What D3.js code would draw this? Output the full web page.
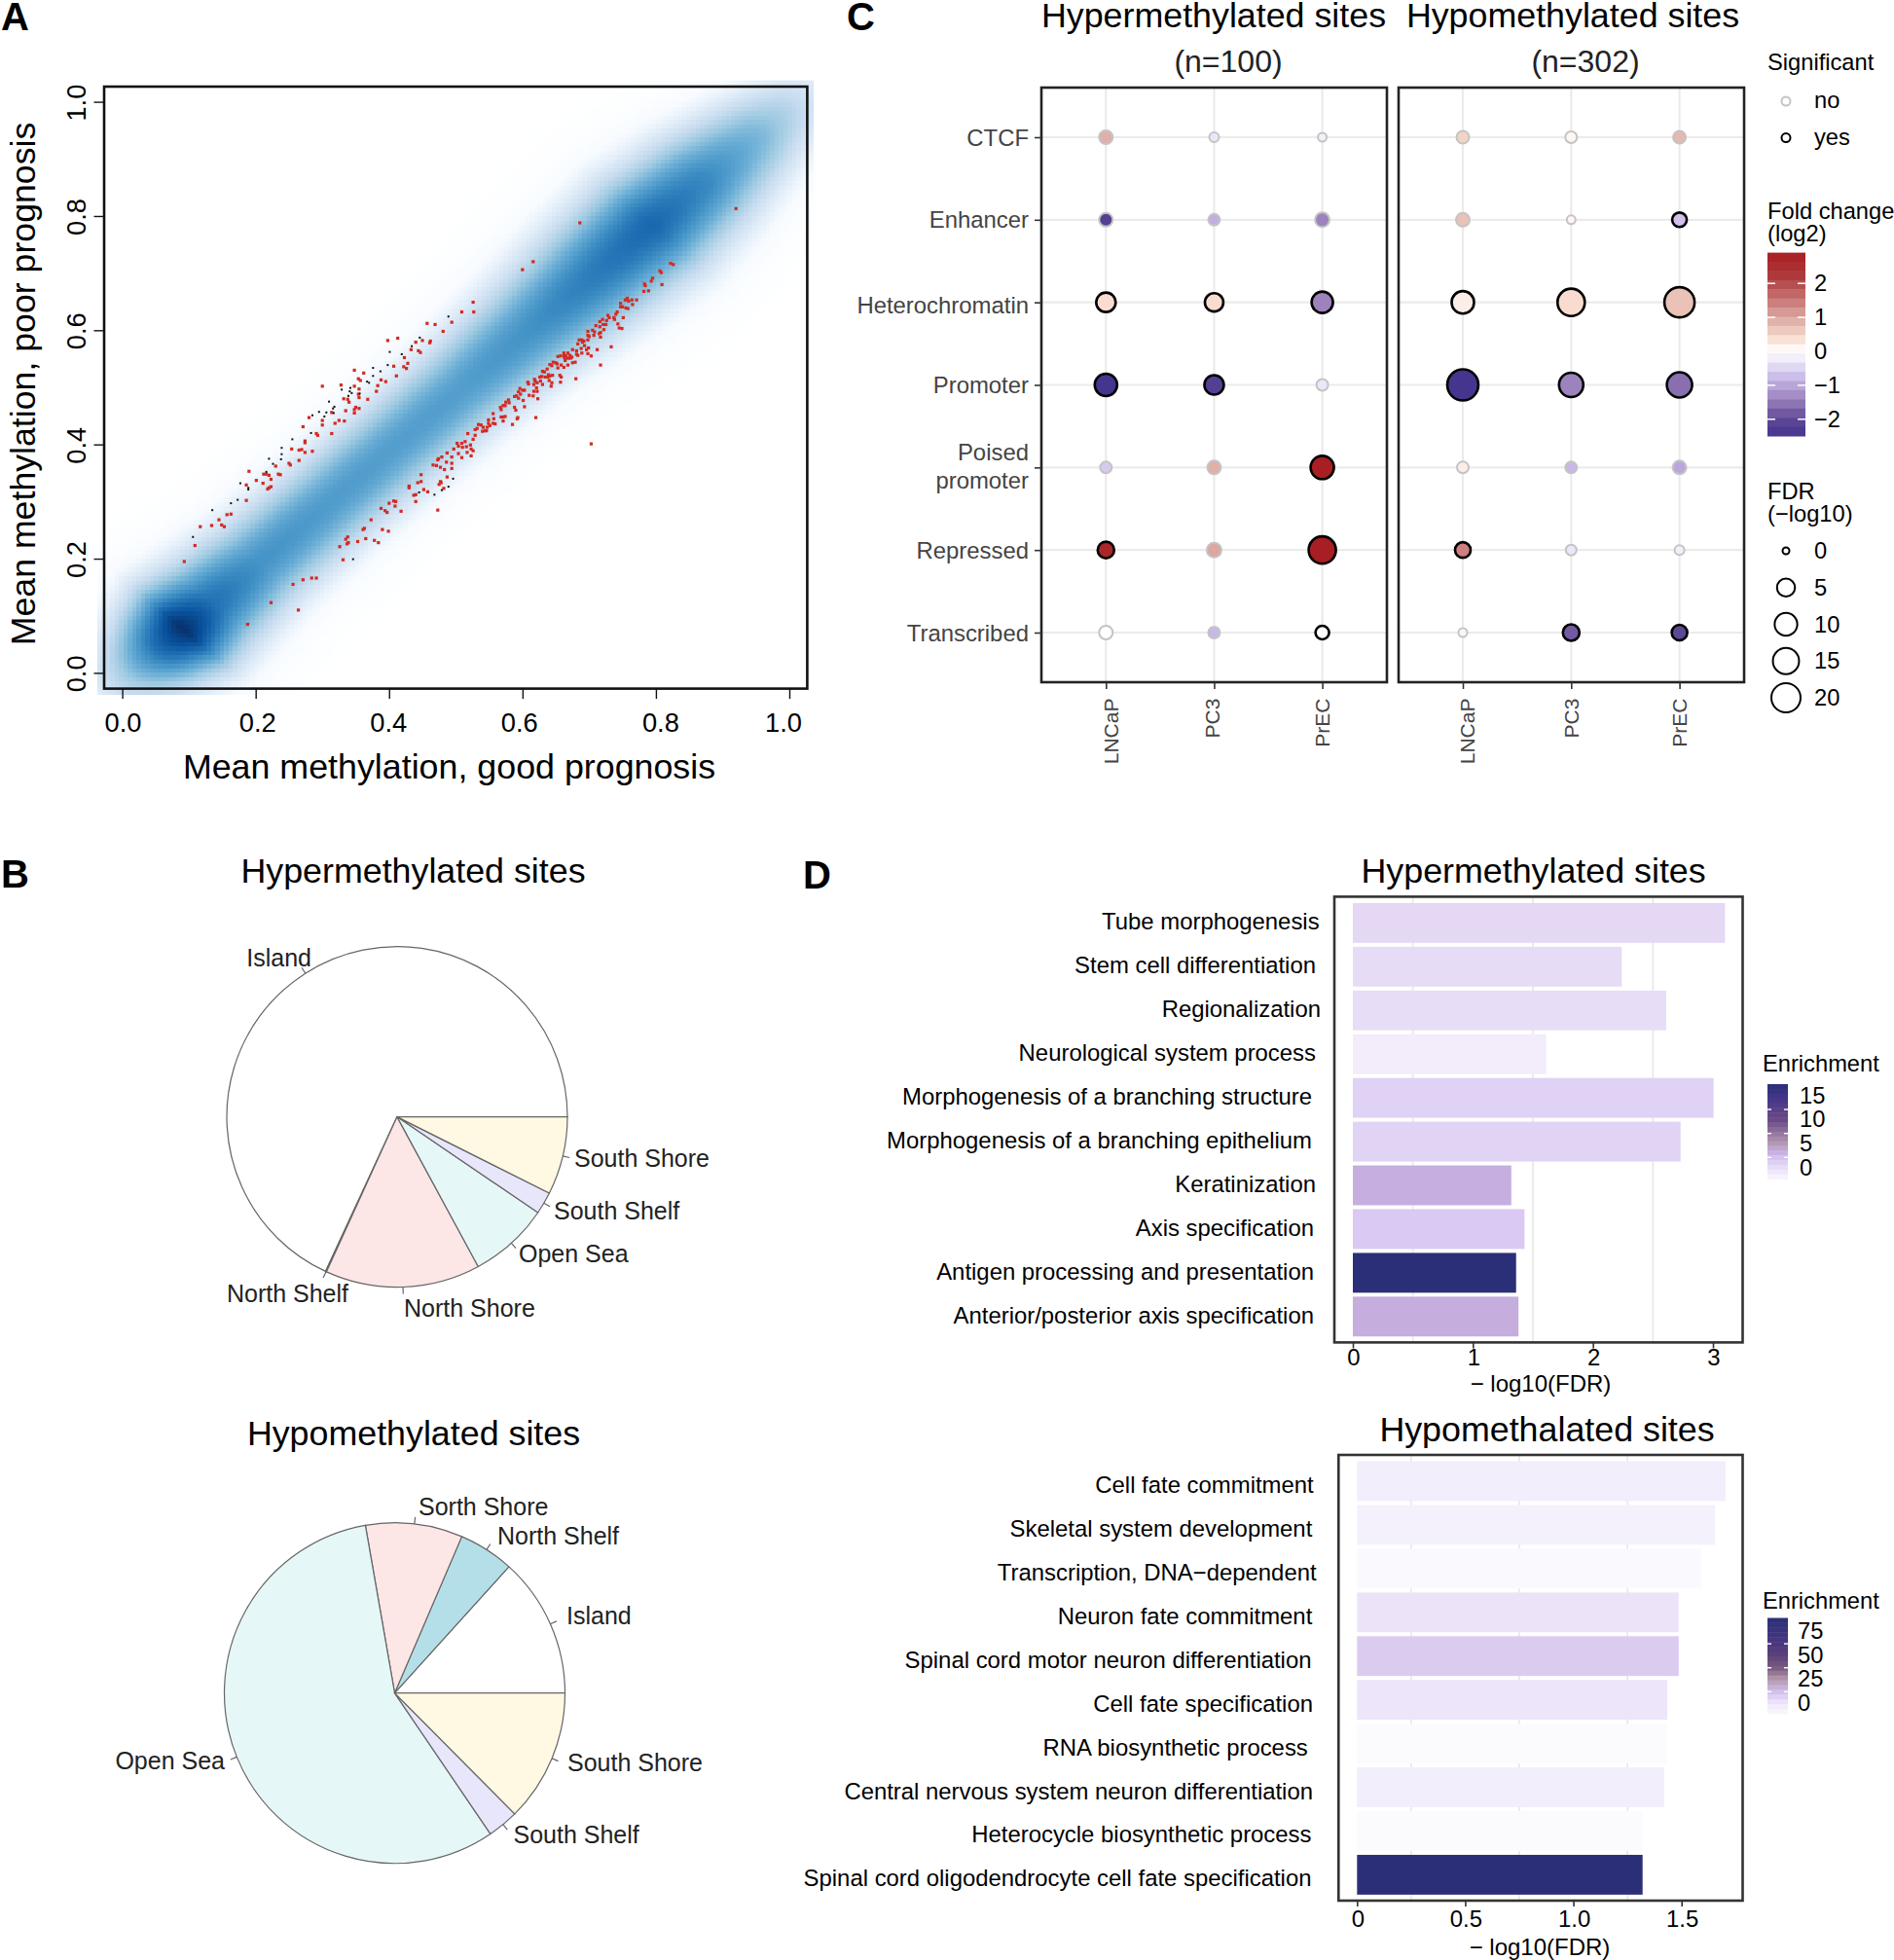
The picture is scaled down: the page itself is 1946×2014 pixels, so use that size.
<!DOCTYPE html>
<html>
<head>
<meta charset="utf-8">
<script src="https://cdn.jsdelivr.net/npm/d3@7"></script>
<style>
html, body { margin: 0; padding: 0; background: #fff; }
svg { display: block; font-family: "Liberation Sans", Arial, sans-serif; }
</style>
</head>
<body>
<svg id="chart" width="1946" height="2014" viewBox="0 0 1946 2014"></svg>
<script>
// panel A, red sites (good prognosis, poor prognosis)
var redSites = [
[.526,.649],[.509,.632],[.527,.632],[.494,.614],[.457,.612],[.469,.610],[.481,.598],[.413,.586],[.398,.582],[.450,.582],
[.462,.581],[.440,.579],[.461,.578],[.433,.566],[.444,.564],[.447,.561],[.423,.552],[.428,.542],[.422,.536],[.426,.533],
[.407,.537],[.348,.530],[.362,.525],[.411,.520],[.354,.515],[.357,.512],[.388,.513],[.395,.510],[.383,.503],[.300,.502],
[.328,.504],[.348,.502],[.355,.497],[.381,.493],[.354,.488],[.355,.482],[.332,.480],[.338,.479],[.340,.474],[.368,.479],
[.350,.465],[.355,.463],[.348,.461],[.335,.459],[.348,.455],[.314,.456],[.280,.447],[.300,.442],[.325,.442],[.333,.441],
[.319,.437],[.300,.434],[.271,.431],[.291,.419],[.293,.416],[.314,.419],[.274,.406],[.274,.403],[.254,.392],[.265,.390],
[.269,.391],[.274,.386],[.285,.388],[.265,.372],[.250,.367],[.252,.364],[.230,.362],[.190,.353],[.212,.348],[.216,.348],
[.220,.346],[.234,.348],[.237,.347],[.223,.339],[.201,.337],[.211,.332],[.186,.329],[.223,.326],[.220,.324],[.218,.322],
[.186,.302],[.093,.195],[.109,.223],[.117,.256],[.134,.258],[.145,.268],[.149,.259],[.153,.256],[.157,.277],[.163,.278],
[.188,.085],[.223,.123],[.264,.110],[.256,.155],[.271,.163],[.284,.166],[.291,.166],[.331,.198],[.326,.221],[.337,.226],
[.339,.228],[.335,.234],[.338,.238],[.353,.230],[.365,.235],[.378,.232],[.384,.228],[.361,.251],[.363,.253],[.390,.251],
[.399,.248],[.373,.268],[.473,.285],[.388,.288],[.394,.284],[.397,.281],[.418,.283],[.400,.297],[.409,.292],[.407,.301],
[.410,.300],[.440,.300],[.437,.311],[.440,.312],[.430,.327],[.430,.324],[.443,.333],[.448,.335],[.448,.347],[.452,.321],
[.458,.317],[.475,.330],[.477,.335],[.478,.333],[.482,.323],[.487,.343],[.483,.356],[.494,.358],[.466,.364],[.471,.363],
[.477,.360],[.486,.369],[.494,.367],[.473,.373],[.474,.375],[.479,.378],[.487,.385],[.494,.378],[.504,.384],[.509,.377],
[.517,.386],[.523,.380],[.497,.392],[.502,.402],[.504,.397],[.509,.402],[.510,.395],[.514,.405],[.516,.396],[.523,.392],
[.526,.389],[.522,.399],[.526,.409],[.529,.416],[.518,.419],[.529,.426],[.532,.428],[.534,.435],[.538,.434],[.540,.423],
[.544,.424],[.541,.430],[.920,.813],[.686,.788],[.616,.720],[.600,.706],[.822,.717],[.826,.715],[.806,.704],[.808,.701],
[.795,.691],[.793,.686],[.783,.681],[.784,.678],[.809,.680],[.782,.668],[.789,.669],[.757,.656],[.754,.653],[.759,.651],
[.764,.653],[.771,.653],[.747,.647],[.747,.641],[.750,.641],[.755,.639],[.758,.638],[.765,.645],[.742,.632],[.740,.628],
[.728,.626],[.730,.622],[.720,.619],[.726,.617],[.737,.622],[.738,.619],[.751,.622],[.716,.615],[.710,.608],[.721,.610],
[.725,.610],[.716,.606],[.743,.611],[.745,.604],[.749,.603],[.722,.601],[.717,.596],[.715,.594],[.698,.598],[.705,.600],
[.708,.597],[.698,.591],[.700,.589],[.707,.591],[.717,.588],[.685,.583],[.689,.583],[.692,.581],[.690,.579],[.698,.583],
[.683,.576],[.693,.573],[.699,.569],[.675,.566],[.681,.564],[.688,.568],[.689,.560],[.696,.566],[.712,.566],[.733,.571],
[.662,.560],[.668,.560],[.653,.554],[.657,.555],[.662,.555],[.665,.555],[.671,.556],[.674,.553],[.681,.558],[.683,.556],
[.698,.559],[.703,.555],[.663,.552],[.668,.551],[.672,.551],[.664,.547],[.646,.544],[.650,.543],[.652,.541],[.644,.538],
[.641,.540],[.658,.539],[.662,.535],[.668,.539],[.675,.543],[.679,.544],[.717,.539],[.653,.534],[.630,.528],[.633,.527],
[.637,.532],[.639,.522],[.638,.518],[.626,.518],[.629,.519],[.634,.518],[.641,.520],[.645,.521],[.656,.521],[.658,.518],
[.680,.515],[.618,.514],[.608,.509],[.609,.506],[.619,.511],[.622,.508],[.617,.505],[.627,.511],[.640,.512],[.644,.508],
[.643,.502],[.657,.509],[.630,.505],[.621,.499],[.596,.498],[.600,.495],[.603,.495],[.594,.492],[.591,.485],[.597,.488],
[.617,.493],[.622,.493],[.610,.486],[.616,.485],[.623,.480],[.594,.481],[.601,.477],[.588,.484],[.579,.478],[.575,.474],
[.580,.473],[.571,.468],[.574,.468],[.567,.465],[.568,.461],[.588,.465],[.590,.460],[.603,.466],[.556,.454],[.557,.445],
[.568,.448],[.571,.448],[.574,.449],[.571,.441],[.593,.447],[.592,.445],[.620,.447],[.549,.443],[.549,.437],[.556,.437],
[.559,.436],[.551,.433],[.547,.430],[.546,.424],[.585,.435],[.703,.401]
]
var blackSites = [
[.489,.624],[.446,.587],[.434,.572],[.401,.562],[.419,.558],[.398,.539],[.376,.534],[.387,.528],[.376,.520],[.367,.510],
[.370,.508],[.342,.499],[.329,.496],[.341,.493],[.344,.490],[.356,.489],[.339,.485],[.310,.475],[.318,.466],[.316,.463],
[.306,.456],[.295,.457],[.285,.451],[.303,.449],[.317,.455],[.283,.420],[.255,.409],[.239,.394],[.239,.383],[.220,.375],
[.238,.374],[.226,.366],[.216,.352],[.189,.324],[.189,.321],[.106,.238],[.135,.285],[.163,.297],[.173,.303],[.177,.332],
[.346,.199],[.468,.312],[.445,.316],[.479,.320],[.489,.326],[.496,.340]
]
// panel A, smoothed density read along the diagonal
var densityAlong = [-.04, 0, .05, .085, .13, .2, .3, .4, .5, .6, .7, .79, .87, .95, 1, 1.04]
var densityPeak = [.18, .42, .8, 1, .78, .66, .63, .62, .62, .66, .74, .81, .7, .52, .36, .2]
var densitySpread = [.075, .082, .092, .098, .098, .093, .09, .09, .092, .098, .106, .11, .102, .088, .078, .07]

// panel B
var pieNames = ['Island', 'North Shelf', 'North Shore', 'Open Sea', 'South Shelf', 'South Shore']
var pieHyper = [68.1, 0.1, 14.7, 7.6, 2.1, 7.4]
var pieHypo = [13.3, 5.25, 9.2, 56.75, 2.95, 12.55]
var pieHypoNames = ['Island', 'North Shelf', 'Sorth Shore', 'Open Sea', 'South Shelf', 'South Shore']

// panel C
var regions = ['CTCF', 'Enhancer', 'Heterochromatin', 'Promoter', 'Poised promoter', 'Repressed', 'Transcribed']
var cells = ['LNCaP', 'PC3', 'PrEC']
var foldHyper = [[.9,-.3,-.2],[-2.2,-.9,-1.4],[.4,.4,-1.4],[-2.5,-2.2,-.3],[-.6,.9,2.9],[2.7,1,2.9],[0,-.8,0]]
var fdrHyper = [[1.85,.34,.15],[1.85,.95,2.4],[6.4,5.4,8.5],[9.7,6.4,.95],[.95,1.85,10.9],[3.8,2.4,16.7],[1.85,.95,1.85]]
var sigHyper = [[0,0,0],[0,0,0],[1,1,1],[1,1,0],[0,0,1],[1,0,1],[0,0,1]]
var foldHypo = [[.5,.1,.8],[.7,.1,-.7],[.2,.4,.7],[-2.5,-1.4,-1.6],[.2,-.8,-1],[1.4,-.3,-.2],[-.1,-1.8,-2]]
var fdrHypo = [[1.36,.95,1.36],[1.85,.15,2.4],[9.7,16.7,21.8],[23.6,12.2,13.6],[.95,.95,1.85],[3.06,.6,.34],[.15,3.8,3.06]]
var sigHypo = [[0,0,0],[0,0,1],[1,1,1],[1,1,1],[0,0,0],[1,0,0],[0,1,1]]
var fdrLegend = [0, 5, 10, 15, 20]
var foldLegend = [2, 1, 0, -1, -2]

// panel D
var termsHyper = ['Tube morphogenesis', 'Stem cell differentiation', 'Regionalization', 'Neurological system process',
  'Morphogenesis of a branching structure', 'Morphogenesis of a branching epithelium', 'Keratinization',
  'Axis specification', 'Antigen processing and presentation', 'Anterior/posterior axis specification']
var fdrTermsHyper = [3.1, 2.24, 2.61, 1.61, 3.005, 2.73, 1.32, 1.43, 1.36, 1.38]
var enrichHyper = [3.3, 3, 2.9, 1.6, 3.8, 3.7, 6.2, 4.5, 20.3, 6.3]
var termsHypo = ['Cell fate commitment', 'Skeletal system development', 'Transcription, DNA\u2212dependent',
  'Neuron fate commitment', 'Spinal cord motor neuron differentiation', 'Cell fate specification',
  'RNA biosynthetic process', 'Central nervous system neuron differentiation', 'Heterocycle biosynthetic process',
  'Spinal cord oligodendrocyte cell fate specification']
var fdrTermsHypo = [1.704, 1.655, 1.59, 1.487, 1.487, 1.434, 1.431, 1.42, 1.32, 1.32]
var enrichHypo = [9, 7, 2, 14, 21, 13, 1, 9, 1, 102]

var svg = d3.select('#chart')
var minus = '\u2212'

function label(text, x, y, size, opts) {
    opts = opts || {}
    return svg.append('text')
        .text(text)
        .attr('x', x)
        .attr('y', y)
        .attr('font-size', size)
        .attr('text-anchor', opts.anchor || 'start')
        .attr('fill', opts.fill || '#000')
        .attr('font-weight', opts.weight || 'normal')
}

function frame(x0, y0, x1, y1, colour) {
    svg.append('rect')
        .attr('x', x0).attr('y', y0)
        .attr('width', x1 - x0).attr('height', y1 - y0)
        .attr('fill', 'none')
        .attr('stroke', colour)
        .attr('stroke-width', 2.6)
}

label('A', 1, 31, 40, {weight: 'bold'})
label('C', 870, 31, 40, {weight: 'bold'})
label('B', 1, 912, 40, {weight: 'bold'})
label('D', 825, 913, 40, {weight: 'bold'})

drawDensity()
drawPie(pieHyper, pieNames, 408, 1147.6, [
    [320, 993, 'end'], [358, 1338, 'end'], [415, 1352.7, 'start'], [533, 1296.6, 'start'], [569, 1253, 'start'], [590, 1199, 'start']
])
drawPie(pieHypo, pieHypoNames, 405.5, 1739.7, [
    [582, 1669, 'start'], [511, 1587, 'start'], [430, 1557, 'start'], [231, 1818, 'end'], [527.5, 1894, 'start'], [583, 1820, 'start']
])
label('Hypermethylated sites', 424.5, 907, 35.8, {anchor: 'middle'})
label('Hypomethylated sites', 425, 1485, 35.8, {anchor: 'middle'})
drawBubbles()
drawBars(termsHyper, fdrTermsHyper, enrichHyper, {
    frame: [1371, 921.4, 1790.5, 1379.4], band: [923.9, 1377.3],
    x: d3.scaleLinear().domain([0, 3]).range([1390, 1760]),
    ticks: [0, 1, 2, 3], format: d3.format('d'), grid: [.5, 1.5, 2.5],
    ends: [1355.6, 1352, 1357, 1352, 1348, 1348, 1352, 1350, 1350, 1350], labelDy: 7,
    title: 'Hypermethylated sites', titleX: 1575.6, titleY: 907,
    tickY: 1403, axisX: 1583, axisY: 1430,
    legendY: 1100.5, barTop: 1114, barBottom: 1211.5, barDomain: [.5, 20.3],
    legendTicks: [15, 10, 5, 0], legendX: 1849, labelShift: -14.4,
    stops: [.5, 3, 4.5, 6.2, 7.8, 12.9, 18, 20.3],
    colours: ['#fbf8ff', '#e6dcf6', '#dac9f2', '#c6aee0', '#b79ab4', '#6a4a85', '#3e3488', '#2b2f78']
})
drawBars(termsHypo, fdrTermsHypo, enrichHypo, {
    frame: [1375.3, 1495, 1790.5, 1953], band: [1497.5, 1950.9],
    x: d3.scaleLinear().domain([0, 1.5]).range([1394.3, 1727.7]),
    ticks: [0, .5, 1, 1.5], format: function(d) { return d == 0 ? '0' : d3.format('.1f')(d) }, grid: [.25, .75, 1.25],
    ends: [1349.7, 1348.3, 1352.6, 1348.3, 1347.5, 1349, 1343.8, 1349, 1347.5, 1347.5], labelDy: 12,
    title: 'Hypomethalated sites', titleX: 1589.5, titleY: 1480.5,
    tickY: 1980, axisX: 1582, axisY: 2009,
    legendY: 1653, barTop: 1662.5, barBottom: 1761, barDomain: [2, 102],
    legendTicks: [75, 50, 25, 0], legendX: 1847, labelShift: -13,
    stops: [1, 9, 14, 25, 39, 50, 64, 75, 102],
    colours: ['#fbfafd', '#f3eefb', '#ece3f9', '#d2bfea', '#b094a8', '#7a5a82', '#5a4078', '#4a3880', '#2b2f78']
})


function drawDensity(){
    var x = d3.scaleLinear().domain([0, 1]).range([125.6, 811])
    var y = d3.scaleLinear().domain([0, 1]).range([691.4, 104.6])
    var peak = d3.scaleLinear().domain(densityAlong).range(densityPeak).clamp(true)
    var spread = d3.scaleLinear().domain(densityAlong).range(densitySpread).clamp(true)
    // white + R's blues9, the smoothScatter palette
    var blues = ['#ffffff', '#f7fbff', '#deebf7', '#c6dbef', '#9ecae1', '#6baed6', '#4292c6', '#2171b5', '#08519c', '#08306b']
    var ramp = d3.scaleLinear().domain(blues.map((c, i) => i / 9)).range(blues)

    var left = 100, right = 836, top = 82.6, bottom = 714
    var cell = 4.5
    var nx = Math.round((right - left) / cell), ny = Math.round((bottom - top) / cell)
    var canvas = document.createElement('canvas')
    canvas.width = nx
    canvas.height = ny
    var ctx = canvas.getContext('2d')
    for (var i = 0; i < nx; i++) {
        for (var j = 0; j < ny; j++) {
            var vx = x.invert(left + (i + .5) * cell)
            var vy = y.invert(top + (j + .5) * cell)
            var along = (vx + vy) / 2
            var off = vy - vx + .012
            var s = spread(along)
            var edge = Math.min(1, Math.max(0, (along + .09) / .05)) * Math.min(1, Math.max(0, (1.09 - along) / .05))
            ctx.fillStyle = ramp(peak(along) * Math.exp(-off * off / (2 * s * s)) * edge)
            ctx.fillRect(i, j, 1, 1)
        }
    }
    svg.append('image')
        .attr('x', left).attr('y', top)
        .attr('width', right - left).attr('height', bottom - top)
        .attr('preserveAspectRatio', 'none')
        .style('image-rendering', 'pixelated')
        .attr('href', canvas.toDataURL())

    svg.append('g').selectAll('rect').data(redSites).enter().append('rect')
        .attr('x', d => x(d[0]) - 1.6).attr('y', d => y(d[1]) - 1.6)
        .attr('width', 3.2).attr('height', 3.2)
        .attr('fill', '#d42a22')
    svg.append('g').selectAll('rect').data(blackSites).enter().append('rect')
        .attr('x', d => x(d[0]) - 1).attr('y', d => y(d[1]) - 1)
        .attr('width', 2).attr('height', 2)
        .attr('fill', '#111')

    frame(107, 89, 829.4, 707.6, '#111')

    var tickVals = [0, .2, .4, .6, .8, 1]
    var xAxis = svg.append('g').attr('transform', 'translate(0,707.6)')
        .call(d3.axisBottom(x).tickValues(tickVals).tickSize(10.5).tickFormat(''))
    xAxis.select('.domain').remove()
    var yAxis = svg.append('g').attr('transform', 'translate(107,0)')
        .call(d3.axisLeft(y).tickValues(tickVals).tickSize(10.5).tickFormat(''))
    yAxis.select('.domain').remove()
    svg.selectAll('.tick line').attr('stroke', '#111').attr('stroke-width', 1.4)

    var xNudge = [1, 2, -.5, -3, 5, -6]
    tickVals.forEach(function(v, i) {
        label(d3.format('.1f')(v), x(v) + xNudge[i], 751.6, 27.3, {anchor: 'middle'})
        label(d3.format('.1f')(v), 0, 0, 27.3, {anchor: 'middle'})
            .attr('transform', 'translate(87.8,' + (y(v) + 1) + ') rotate(-90)')
    })
    label('Mean methylation, good prognosis', 461.5, 800, 35.8, {anchor: 'middle'})
    label('Mean methylation, poor prognosis', 0, 0, 35.7, {anchor: 'middle'})
        .attr('transform', 'translate(35.5,394.5) rotate(-90)')
}


function drawPie(values, names, cx, cy, places){
    var r = 175
    var colours = {'Island': '#ffffff', 'North Shelf': '#b5dfe8', 'North Shore': '#fde6e6', 'Sorth Shore': '#fde6e6',
        'Open Sea': '#e6f7f8', 'South Shelf': '#e8e6fb', 'South Shore': '#fff9e3'}
    // R draws its pies anticlockwise from three o'clock
    var pie = d3.pie().sort(null).startAngle(Math.PI / 2).endAngle(Math.PI / 2 - 2 * Math.PI)
    var arc = d3.arc().innerRadius(0).outerRadius(r)
    var g = svg.append('g').attr('transform', 'translate(' + cx + ',' + cy + ')')
    var arcs = pie(values)
    g.selectAll('path').data(arcs).enter().append('path')
        .attr('d', arc)
        .attr('fill', (d, i) => colours[names[i]])
        .attr('stroke', '#666')
        .attr('stroke-width', 1.2)
    g.selectAll('line').data(arcs).enter().append('line')
        .attr('x1', d => r * Math.sin((d.startAngle + d.endAngle) / 2))
        .attr('y1', d => -r * Math.cos((d.startAngle + d.endAngle) / 2))
        .attr('x2', d => 1.04 * r * Math.sin((d.startAngle + d.endAngle) / 2))
        .attr('y2', d => -1.04 * r * Math.cos((d.startAngle + d.endAngle) / 2))
        .attr('stroke', '#666')
        .attr('stroke-width', 1.2)
    names.forEach(function(n, i) {
        label(n, places[i][0], places[i][1], 25, {anchor: places[i][2], fill: '#222'})
    })
}


function drawBubbles(){
    var y = d3.scalePoint().domain(regions).range([141, 650])
    var size = d3.scaleSqrt().domain([0, 20]).range([3.5, 15])
    var fold = d3.scaleLinear()
        .domain([-2.5, -2, -1.4, -.8, -.3, 0, .4, .9, 1.5, 2.2, 2.9])
        .range(['#45358f', '#5e4796', '#9c83bd', '#c8b8e8', '#ece7f8', '#ffffff', '#f9dccf', '#e0b0a8', '#c87878', '#ad3a3c', '#a81e22'])
        .clamp(true)

    var facets = [
        {left: 1070, right: 1425, a: 1136.3, b: 1358.6, fold: foldHyper, fdr: fdrHyper, sig: sigHyper, textShift: [12.5, 6, 7.5]},
        {left: 1437, right: 1792, a: 1503, b: 1725.6, fold: foldHypo, fdr: fdrHypo, sig: sigHypo, textShift: [11.5, 7.5, 7.5]}
    ]
    facets.forEach(function(f) {
        var x = d3.scalePoint().domain(cells).range([f.a, f.b])
        var g = svg.append('g')
        g.selectAll('.gx').data(cells).enter().append('line')
            .attr('x1', d => x(d)).attr('x2', d => x(d)).attr('y1', 90).attr('y2', 701)
            .attr('stroke', '#ebebeb').attr('stroke-width', 2.2)
        g.selectAll('.gy').data(regions).enter().append('line')
            .attr('x1', f.left).attr('x2', f.right).attr('y1', d => y(d)).attr('y2', d => y(d))
            .attr('stroke', '#ebebeb').attr('stroke-width', 2.2)

        regions.forEach(function(region, i) {
            cells.forEach(function(cell, j) {
                var yes = f.sig[i][j] == 1
                g.append('circle')
                    .attr('cx', x(cell)).attr('cy', y(region))
                    .attr('r', size(f.fdr[i][j]))
                    .attr('fill', fold(f.fold[i][j]))
                    .attr('stroke', yes ? '#000' : '#c4c4c4')
                    .attr('stroke-width', yes ? 2.6 : 2)
            })
        })
        frame(f.left, 90, f.right, 701, '#222')

        var axis = svg.append('g').attr('transform', 'translate(0,701)')
            .call(d3.axisBottom(x).tickSize(7).tickFormat(''))
        axis.select('.domain').remove()
        axis.selectAll('line').attr('stroke', '#333').attr('stroke-width', 1.6)
        cells.forEach(function(c, i) {
            label(c, 0, 0, 21, {anchor: 'end', fill: '#444'})
                .attr('transform', 'translate(' + (x(c) + f.textShift[i]) + ',717.6) rotate(-90)')
        })
    })

    var rows = svg.append('g').attr('transform', 'translate(1070,0)')
        .call(d3.axisLeft(y).tickSize(7).tickFormat(''))
    rows.select('.domain').remove()
    rows.selectAll('line').attr('stroke', '#333').attr('stroke-width', 1.6)
    regions.forEach(function(r) {
        if (r == 'Poised promoter') {
            label('Poised', 1057, y(r) - 7, 23.9, {anchor: 'end', fill: '#444'})
            label('promoter', 1057, y(r) + 22, 23.9, {anchor: 'end', fill: '#444'})
        } else {
            label(r, 1057, y(r) + (r == 'Heterochromatin' ? 11 : 8.5), 23.9, {anchor: 'end', fill: '#444'})
        }
    })

    label('Hypermethylated sites', 1247, 28, 35.8, {anchor: 'middle'})
    label('Hypomethylated sites', 1616, 28, 35.8, {anchor: 'middle'})
    label('(n=100)', 1262, 74, 32, {anchor: 'middle', fill: '#222'})
    label('(n=302)', 1629, 74, 32, {anchor: 'middle', fill: '#222'})

    // legends
    label('Significant', 1816, 72, 23.7)
    ;[['no', 104, '#c4c4c4'], ['yes', 141.6, '#000']].forEach(function(d) {
        svg.append('circle').attr('cx', 1835).attr('cy', d[1]).attr('r', 4.5)
            .attr('fill', '#fff').attr('stroke', d[2]).attr('stroke-width', 2)
        label(d[0], 1864, d[1] + 7, 23.7)
    })

    label('Fold change', 1816, 225, 23.7)
    label('(log2)', 1816, 248, 23.7)
    var bar = d3.scaleLinear().domain([0, 1]).range([361, 326.1])
    var steps = d3.range(20)
    var barTop = 259.6, barH = (448 - 259.6) / steps.length
    svg.append('g').selectAll('rect').data(steps).enter().append('rect')
        .attr('x', 1816).attr('width', 39)
        .attr('y', d => barTop + d * barH).attr('height', barH + .5)
        .attr('fill', d => fold(bar.invert(barTop + (d + .5) * barH)))
    foldLegend.forEach(function(v) {
        if (v != 0) {
            svg.append('line').attr('x1', 1816).attr('x2', 1824).attr('y1', bar(v)).attr('y2', bar(v)).attr('stroke', '#fff').attr('stroke-width', 1.5)
            svg.append('line').attr('x1', 1847).attr('x2', 1855).attr('y1', bar(v)).attr('y2', bar(v)).attr('stroke', '#fff').attr('stroke-width', 1.5)
        }
        label(v < 0 ? minus + Math.abs(v) : String(v), 1864, bar(v) + 8, 23.7)
    })

    label('FDR', 1816, 513, 23.7)
    label('(' + minus + 'log10)', 1816, 536, 23.7)
    var legendY = d3.scalePoint().domain(fdrLegend).range([566, 717])
    fdrLegend.forEach(function(v) {
        svg.append('circle').attr('cx', 1835).attr('cy', legendY(v)).attr('r', size(v))
            .attr('fill', '#fff').attr('stroke', '#000').attr('stroke-width', 2)
        label(String(v), 1864, legendY(v) + 8, 23.7)
    })
}


function drawBars(terms, fdr, enrich, o){
    var y = d3.scaleBand().domain(terms).range(o.band).padding(.09)
    var x = o.x
    var colour = d3.scaleLinear().domain(o.stops).range(o.colours).clamp(true)
    var f = o.frame
    var g = svg.append('g')

    g.selectAll('.grid').data(o.grid).enter().append('line')
        .attr('x1', d => x(d)).attr('x2', d => x(d)).attr('y1', f[1]).attr('y2', f[3])
        .attr('stroke', '#ebebeb').attr('stroke-width', 2)
    g.selectAll('.bar').data(terms).enter().append('rect')
        .attr('x', x(0))
        .attr('y', d => y(d))
        .attr('width', (d, i) => x(fdr[i]) - x(0))
        .attr('height', y.bandwidth())
        .attr('fill', (d, i) => colour(enrich[i]))
    terms.forEach(function(t, i) {
        label(t, o.ends[i], y(t) + y.bandwidth() / 2 + o.labelDy, 23.9, {anchor: 'end'})
    })
    frame(f[0], f[1], f[2], f[3], '#333')

    var axis = svg.append('g').attr('transform', 'translate(0,' + f[3] + ')')
        .call(d3.axisBottom(x).tickValues(o.ticks).tickSize(6).tickFormat(''))
    axis.select('.domain').remove()
    axis.selectAll('line').attr('stroke', '#333').attr('stroke-width', 1.6)
    o.ticks.forEach(function(v) {
        label(o.format(v), x(v) + 1, o.tickY, 23.9, {anchor: 'middle'})
    })
    label(minus + ' log10(FDR)', o.axisX, o.axisY, 24, {anchor: 'middle'})
    label(o.title, o.titleX, o.titleY, 35.8, {anchor: 'middle'})

    // enrichment legend, its printed numbers sit above the white marks
    label('Enrichment', 1811, o.legendY, 23.7)
    var bar = d3.scaleLinear().domain(o.barDomain).range([o.barBottom, o.barTop])
    var steps = d3.range(20)
    var h = (o.barBottom - o.barTop) / steps.length
    svg.append('g').selectAll('rect').data(steps).enter().append('rect')
        .attr('x', 1816).attr('width', 21)
        .attr('y', d => o.barTop + d * h).attr('height', h + .5)
        .attr('fill', d => colour(bar.invert(o.barTop + (d + .5) * h)))
    o.legendTicks.forEach(function(v) {
        var py = bar(v)
        if (py < o.barBottom) {
            svg.append('line').attr('x1', 1816).attr('x2', 1820).attr('y1', py).attr('y2', py).attr('stroke', '#fff').attr('stroke-width', 1.4)
            svg.append('line').attr('x1', 1833).attr('x2', 1837).attr('y1', py).attr('y2', py).attr('stroke', '#fff').attr('stroke-width', 1.4)
        }
        label(String(v), o.legendX, py + o.labelShift + 8, 23.7)
    })
}
</script>
</body>
</html>
